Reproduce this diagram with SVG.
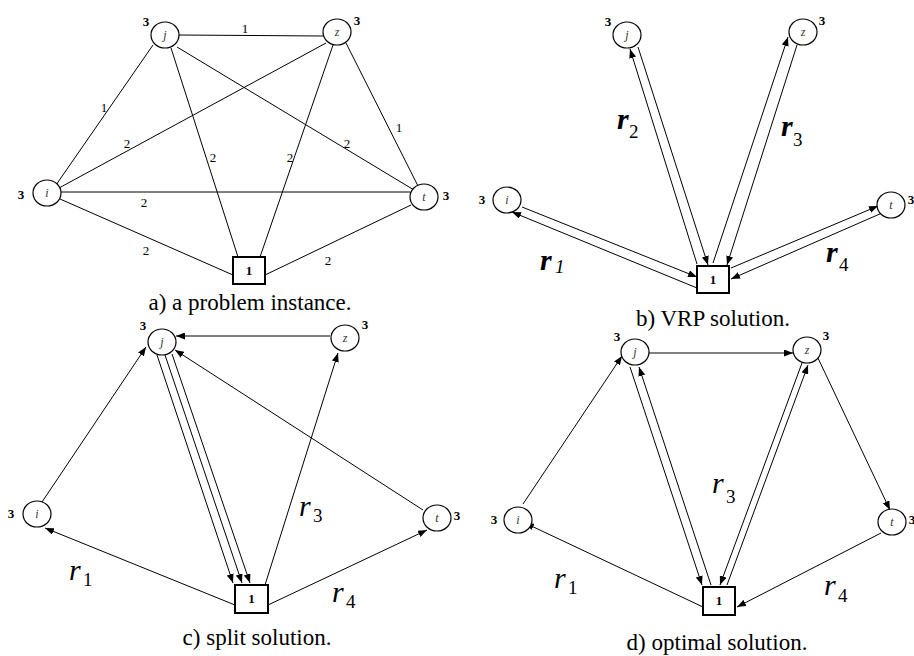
<svg xmlns="http://www.w3.org/2000/svg" width="914" height="656" viewBox="0 0 914 656">
<style>
.n{fill:#fff;stroke:#000;stroke-width:1.2}
.d{fill:#fff;stroke:#000;stroke-width:2}
.nl{font-family:"Liberation Serif",serif;font-style:italic;font-size:12px;text-anchor:middle;fill:#333}
.dl{font-family:"Liberation Serif",serif;font-weight:bold;font-size:13px;text-anchor:middle}
.dm{font-family:"Liberation Serif",serif;font-weight:bold;font-size:13px;text-anchor:middle}
.w{font-family:"Liberation Serif",serif;font-size:13px;text-anchor:middle}
.cap{font-family:"Liberation Serif",serif;font-size:23px;text-anchor:middle}
.r{font-family:"Liberation Serif",serif;font-style:italic;font-size:30px}
.rb{font-family:"Liberation Serif",serif;font-style:italic;font-weight:bold;font-size:30px}
.s{font-family:"Liberation Serif",serif;font-style:normal;font-weight:normal;font-size:19px}
.e{stroke:#000;stroke-width:1;fill:none}
.a{stroke:#000;stroke-width:1;fill:none;marker-end:url(#ah)}
</style>
<defs>
<marker id="ah" markerUnits="userSpaceOnUse" markerWidth="9" markerHeight="7" refX="9" refY="3.5" orient="auto">
<path d="M0,0 L9,3.5 L0,7 z" fill="#000"/>
</marker>
</defs>

<!-- Panel a -->
<g id="a-edges">
<line class="e" x1="179" y1="35" x2="323" y2="36"/>
<line class="e" x1="153" y1="45" x2="56" y2="185"/>
<line class="e" x1="326" y1="43" x2="59" y2="188"/>
<line class="e" x1="171" y1="48" x2="238" y2="257"/>
<line class="e" x1="333" y1="45" x2="260" y2="257"/>
<line class="e" x1="177" y1="47" x2="414" y2="190"/>
<line class="e" x1="346" y1="43" x2="418" y2="186"/>
<line class="e" x1="61" y1="192" x2="410" y2="192"/>
<line class="e" x1="60" y1="199" x2="233" y2="275"/>
<line class="e" x1="265" y1="275" x2="411" y2="205"/>
<text class="w" x="245" y="33">1</text>
<text class="w" x="104" y="112">1</text>
<text class="w" x="127" y="148">2</text>
<text class="w" x="213" y="162">2</text>
<text class="w" x="290" y="162">2</text>
<text class="w" x="347" y="148">2</text>
<text class="w" x="399" y="132">1</text>
<text class="w" x="144" y="207">2</text>
<text class="w" x="146" y="255">2</text>
<text class="w" x="328" y="265">2</text>
</g>
<g id="a-j"><ellipse class="n" cx="165" cy="35" rx="14" ry="13"/><text class="nl" x="165" y="39">j</text><text class="dl" x="146" y="26">3</text></g>
<g id="a-z"><ellipse class="n" cx="337" cy="32" rx="14" ry="13"/><text class="nl" x="337" y="36">z</text><text class="dl" x="357" y="25">3</text></g>
<g id="a-i"><ellipse class="n" cx="47" cy="193" rx="14" ry="13"/><text class="nl" x="47" y="197">i</text><text class="dl" x="21" y="199">3</text></g>
<g id="a-t"><ellipse class="n" cx="424" cy="197" rx="14" ry="13"/><text class="nl" x="424" y="201">t</text><text class="dl" x="446" y="200">3</text></g>
<g id="a-1"><rect class="d" x="233" y="257" width="32" height="27"/><text class="dm" x="249" y="275">1</text></g>
<text class="cap" x="250" y="310">a) a problem instance.</text>

<!-- Panel b -->
<g id="b-edges">
<line class="a" x1="697" y1="264" x2="630" y2="49"/>
<line class="a" x1="638" y1="47" x2="708" y2="265"/>
<line class="a" x1="713" y1="263" x2="788" y2="37"/>
<line class="a" x1="797" y1="45" x2="727" y2="265"/>
<line class="a" x1="522" y1="207" x2="697" y2="277"/>
<line class="a" x1="697" y1="288" x2="512" y2="212"/>
<line class="a" x1="731" y1="268" x2="878" y2="206"/>
<line class="a" x1="882" y1="213" x2="731" y2="279"/>
<text class="rb" x="617" y="129">r<tspan class="s" x="629" y="138">2</tspan></text>
<text class="rb" x="781" y="136">r<tspan class="s" x="793" y="146">3</tspan></text>
<text class="rb" x="540" y="270">r<tspan class="s" style="font-style:italic" x="555" y="273">1</tspan></text>
<text class="rb" x="826" y="262">r<tspan class="s" x="839" y="271">4</tspan></text>
</g>
<g id="b-j"><ellipse class="n" cx="627" cy="35" rx="14" ry="13"/><text class="nl" x="627" y="39">j</text><text class="dl" x="608" y="26">3</text></g>
<g id="b-z"><ellipse class="n" cx="803" cy="32" rx="14" ry="13"/><text class="nl" x="803" y="36">z</text><text class="dl" x="822" y="25">3</text></g>
<g id="b-i"><ellipse class="n" cx="507" cy="200" rx="14" ry="13"/><text class="nl" x="507" y="204">i</text><text class="dl" x="482" y="204">3</text></g>
<g id="b-t"><ellipse class="n" cx="891" cy="205" rx="14" ry="13"/><text class="nl" x="891" y="209">t</text><text class="dl" x="911" y="204">3</text></g>
<g id="b-1"><rect class="d" x="697" y="266" width="32" height="27"/><text class="dm" x="713" y="284">1</text></g>
<text class="cap" x="713" y="326">b) VRP solution.</text>

<!-- Panel c -->
<g id="c-edges">
<line class="a" x1="330" y1="336" x2="176" y2="336"/>
<line class="a" x1="42" y1="502" x2="146" y2="347"/>
<line class="a" x1="423" y1="510" x2="175" y2="350"/>
<line class="a" x1="265" y1="585" x2="338" y2="353"/>
<line class="a" x1="157" y1="355" x2="233" y2="583"/>
<line class="a" x1="165" y1="355" x2="242" y2="583"/>
<line class="a" x1="172" y1="354" x2="250" y2="583"/>
<line class="a" x1="235" y1="605" x2="45" y2="528"/>
<line class="a" x1="268" y1="605" x2="427" y2="530"/>
<text class="r" x="299" y="516">r<tspan class="s" x="313" y="522">3</tspan></text>
<text class="r" x="69" y="580">r<tspan class="s" x="83" y="586">1</tspan></text>
<text class="r" x="332" y="602">r<tspan class="s" x="346" y="608">4</tspan></text>
</g>
<g id="c-j"><ellipse class="n" cx="162" cy="342" rx="14" ry="13"/><text class="nl" x="162" y="346">j</text><text class="dl" x="143" y="330">3</text></g>
<g id="c-z"><ellipse class="n" cx="345" cy="338" rx="14" ry="13"/><text class="nl" x="345" y="342">z</text><text class="dl" x="365" y="329">3</text></g>
<g id="c-i"><ellipse class="n" cx="37" cy="514" rx="14" ry="13"/><text class="nl" x="37" y="518">i</text><text class="dl" x="11" y="518">3</text></g>
<g id="c-t"><ellipse class="n" cx="437" cy="518" rx="14" ry="13"/><text class="nl" x="437" y="522">t</text><text class="dl" x="457" y="520">3</text></g>
<g id="c-1"><rect class="d" x="235" y="585" width="33" height="28"/><text class="dm" x="251.5" y="603">1</text></g>
<text class="cap" x="257" y="645">c) split solution.</text>

<!-- Panel d -->
<g id="d-edges">
<line class="a" x1="649" y1="353" x2="793" y2="353"/>
<line class="a" x1="523" y1="504" x2="622" y2="356"/>
<line class="a" x1="817" y1="356" x2="890" y2="510"/>
<line class="a" x1="881" y1="533" x2="737" y2="607"/>
<line class="a" x1="703" y1="607" x2="525" y2="523"/>
<line class="a" x1="630" y1="367" x2="702" y2="585"/>
<line class="a" x1="711" y1="585" x2="639" y2="367"/>
<line class="a" x1="802" y1="363" x2="720" y2="585"/>
<line class="a" x1="727" y1="585" x2="808" y2="365"/>
<text class="r" x="712" y="493">r<tspan class="s" x="726" y="503">3</tspan></text>
<text class="r" x="554" y="588">r<tspan class="s" x="568" y="594">1</tspan></text>
<text class="r" x="824" y="595">r<tspan class="s" x="838" y="602">4</tspan></text>
</g>
<g id="d-j"><ellipse class="n" cx="635" cy="352" rx="14" ry="13"/><text class="nl" x="635" y="356">j</text><text class="dl" x="617" y="341">3</text></g>
<g id="d-z"><ellipse class="n" cx="807" cy="350" rx="14" ry="13"/><text class="nl" x="807" y="354">z</text><text class="dl" x="826" y="340">3</text></g>
<g id="d-i"><ellipse class="n" cx="518" cy="520" rx="14" ry="13"/><text class="nl" x="518" y="524">i</text><text class="dl" x="494" y="524">3</text></g>
<g id="d-t"><ellipse class="n" cx="892" cy="522" rx="14" ry="13"/><text class="nl" x="892" y="526">t</text><text class="dl" x="912" y="524">3</text></g>
<g id="d-1"><rect class="d" x="703" y="587" width="32" height="28"/><text class="dm" x="719" y="605">1</text></g>
<text class="cap" x="717" y="650">d) optimal solution.</text>
</svg>
